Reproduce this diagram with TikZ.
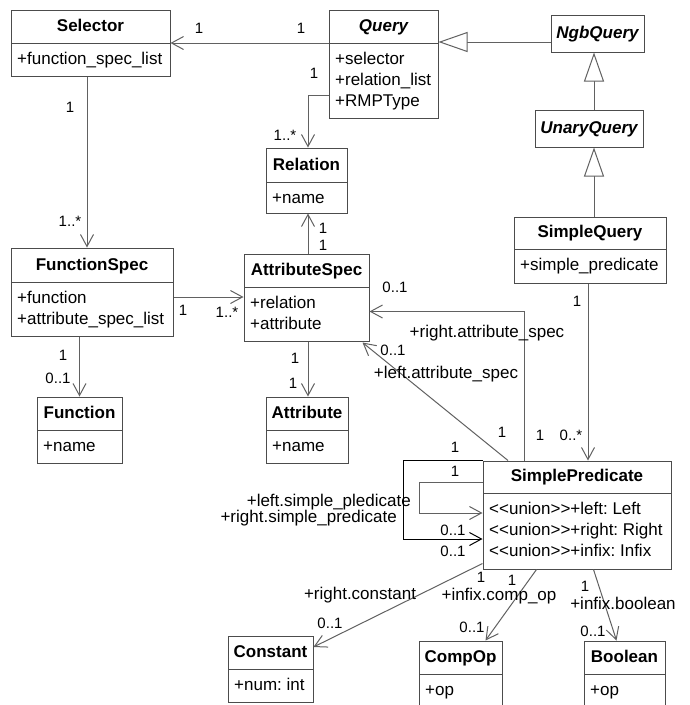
\documentclass[tikz,border=0pt]{standalone}
\usepackage{fontspec}
\setmainfont{Liberation Sans}
\usetikzlibrary{arrows.meta,calc,fit}
\frenchspacing
\definecolor{boxgray}{gray}{0.3}
\definecolor{linegray}{gray}{0.38}
\tikzset{
  classbox/.style={draw=boxgray, line width=1pt, inner sep=0pt},
  sepline/.style={draw=boxgray, line width=1pt},
  ctitle/.style={font=\fontsize{17}{20}\selectfont\bfseries, inner sep=0pt},
  cattr/.style={font=\fontsize{17}{21}\selectfont, inner sep=0pt, anchor=base west},
  assoc/.style={draw=linegray, line width=1pt, -{Straight Barb[length=12pt,width=13pt]}},
  plainline/.style={draw=linegray, line width=1pt},
  gen/.style={draw=linegray, line width=1pt, -{Triangle[open, length=29pt, width=20pt, fill=white]}},
  mult/.style={font=\fontsize{15}{17}\selectfont, inner sep=0pt},
  role/.style={font=\fontsize{17}{20}\selectfont, inner sep=0pt},
}
\newcommand\umlclass[8]{%
  \coordinate (#1-tl) at (#2,#3);
  \coordinate (#1-br) at (#4,#6);
  \node[classbox, fit=(#1-tl)(#1-br)] (#1) {};
  \draw[sepline] (#2,#5) -- (#4,#5);
  \node[ctitle, anchor=base] (#1-name) at ($(#2,#5)!0.5!(#4,#5)+(0,-11.5)$) {#7};
  \node[cattr] (#1-attrs) at ($(#2,#5)+(6,21.5)$) {\frenchspacing\begin{tabular}[t]{@{}l@{}}#8\end{tabular}};
}
\newcommand\umlname[6]{%
  \coordinate (#1-tl) at (#2,#3);
  \coordinate (#1-br) at (#4,#5);
  \node[classbox, fit=(#1-tl)(#1-br)] (#1) {};
  \node[ctitle, anchor=base] (#1-name) at ($(#2,#5)!0.5!(#4,#5)+(0,-14)$) {#6};
}
\begin{document}
\begin{tikzpicture}[x=1pt,y=-1pt]
\useasboundingbox (0,0) rectangle (689,705);
\clip (0,0) rectangle (689,705);
\fill[white] (0,0) rectangle (689,705);

% classes
\umlclass{selector}{11}{10}{170}{43}{76}{Selector}{+function\_spec\_list}
\umlclass{query}{329}{10}{438}{43}{118}{\itshape Query}{+selector\\+relation\_list\\+RMPType}
\umlname{ngb}{551}{15}{644}{52}{\itshape NgbQuery}
\umlname{unary}{535}{110}{643}{147}{\itshape UnaryQuery}
\umlclass{relation}{266}{148}{347}{182}{213}{Relation}{+name}
\umlclass{sq}{514}{217}{666}{249}{283}{SimpleQuery}{+simple\_predicate}
\umlclass{fspec}{11}{248}{173}{282}{336}{FunctionSpec}{+function\\+attribute\_spec\_list}
\umlclass{aspec}{244}{254}{369}{287}{341}{AttributeSpec}{+relation\\+attribute}
\umlclass{function}{37}{397}{122}{430}{463}{Function}{+name}
\umlclass{attribute}{266}{397}{348}{430}{463}{Attribute}{+name}
\umlclass{sp}{483}{461}{671}{493}{569}{SimplePredicate}{<{}<union>{}>+left: Left\\<{}<union>{}>+right: Right\\<{}<union>{}>+infix: Infix}
\umlclass{const}{228}{636}{313}{669}{702}{Constant}{+num: int}
\umlclass{compop}{419}{641}{502}{674}{712}{CompOp}{+op}
\umlclass{boolean}{584}{641}{665}{674}{712}{Boolean}{+op}

% helper coordinates
\coordinate (gx) at (594,0);
\coordinate (sqx) at (588,0);
\coordinate (rx) at (524,0);
\coordinate (lx) at (508,0);
\coordinate (selx) at (87,0);
\coordinate (relx) at (308,0);
\coordinate (ol) at (403,539);
\coordinate (ilt) at (419,482);
\coordinate (ilb) at (419,513);

% generalizations
\draw[gen] ([yshift=-8.5pt]ngb.west) -- ([yshift=-8.5pt]ngb.west -| query.east);
\draw[gen] (gx |- unary.north) -- (gx |- ngb.south);
\draw[gen] (gx |- sq.north) -- (gx |- unary.south);

% associations
\draw[assoc] (query.west |- selector.east) -- (selector.east);
\draw[assoc] ([yshift=-31pt]query.west) -| (relx |- relation.north);
\draw[assoc] (selx |- selector.south) -- (selx |- fspec.north);
\draw[assoc] (fspec.east |- 0,297) -- (aspec.west |- 0,297);
\draw[assoc] (relx |- aspec.north) -- (relx |- relation.south);
\draw[assoc] (relx |- aspec.south) -- (relx |- attribute.north);
\draw[assoc] (function.north |- fspec.south) -- (function.north);
\draw[assoc] (sqx |- sq.south) -- (sqx |- sp.north);
\draw[assoc] (rx |- sp.north) |- ([yshift=-14pt]aspec.east);
\draw[assoc] (lx |- sp.north) -- ([xshift=-7pt,yshift=-1pt]aspec.south east);
\draw[assoc, draw=black] (sp.north west) -| (ol) -- (ol -| sp.west);
\draw[assoc] (ilt -| sp.west) -- (ilt) -- (ilb) -- (ilb -| sp.west);
\draw[assoc] ([yshift=6pt]sp.south west) -- ([yshift=22pt]const.east);
\draw[assoc] ([xshift=54pt]sp.south west) -- ([xshift=25pt]compop.north);
\draw[assoc] ([xshift=111pt]sp.south west) -- ([xshift=-8pt]boolean.north);

% multiplicities
\node[mult] (m1) at (199,28) {1};
\node[mult] (m2) at (301,28) {1};
\node[mult] (m3) at (314,73) {1};
\node[mult] (m4) at (285,135) {1..*};
\node[mult] (m5) at (70,107) {1};
\node[mult] (m6) at (70,221) {1..*};
\node[mult] (m7) at (183,310) {1};
\node[mult] (m8) at (227,312) {1..*};
\node[mult] (m9) at (323,228) {1};
\node[mult] (m10) at (323,245) {1};
\node[mult] (m11) at (295,358) {1};
\node[mult] (m12) at (293,383) {1};
\node[mult] (m13) at (63,355) {1};
\node[mult] (m14) at (58,378) {0..1};
\node[mult] (m15) at (577,301) {1};
\node[mult] (m16) at (571,435) {0..*};
\node[mult] (m17) at (540,435) {1};
\node[mult] (m18) at (395,287) {0..1};
\node[mult] (m19) at (393,350) {0..1};
\node[mult] (m20) at (502,432) {1};
\node[mult] (m21) at (455,447) {1};
\node[mult] (m22) at (455,471) {1};
\node[mult] (m23) at (453,530) {0..1};
\node[mult] (m24) at (453,551) {0..1};
\node[mult] (m25) at (481,577) {1};
\node[mult] (m26) at (330,623) {0..1};
\node[mult] (m27) at (512,580) {1};
\node[mult] (m28) at (472,627) {0..1};
\node[mult] (m29) at (585,586) {1};
\node[mult] (m30) at (593,631) {0..1};

% role names
\node[role] (r1) at (487,333) {+right.attribute\_spec};
\node[role] (r2) at (446,374) {+left.attribute\_spec};
\node[role, anchor=east] (r3) at (411,502) {+left.simple\_pledicate};
\node[role, anchor=east] (r4) at (397,518) {+right.simple\_predicate};
\node[role] (r5) at (360,595) {+right.constant};
\node[role] (r6) at (499,596) {+infix.comp\_op};
\node[role] (r7) at (623,603) {+infix.boolean};
\end{tikzpicture}
\end{document}
